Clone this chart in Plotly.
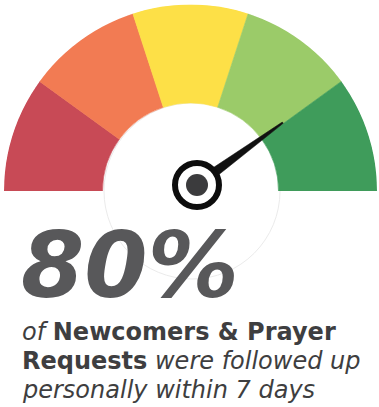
import math
import plotly.graph_objects as go

# Gauge bands (percent scale) and their colours
band_edges = [0, 20, 40, 60, 80, 100]
band_colors = ["#C84A56", "#F27B53", "#FDE047", "#9BCB69", "#3F9C5B"]

# Headline figure shown by the needle
needle_value = 80
headline = "80%"
caption_lines = [
    "<i>of</i> <b>Newcomers &amp; Prayer</b>",
    "<b>Requests</b> <i>were followed up</i>",
    "<i>personally within 7 days</i>",
]

W, H = 379, 407
CX, CY = 190.5, 191.0          # gauge centre (pixels)
R_OUT, R_IN = 186.5, 88.0      # gauge radii (pixels)
HUB_X, HUB_Y = 197.0, 185.0    # needle hub centre (pixels)

deg_per_unit = 180.0 / (band_edges[-1] - band_edges[0])
theta = [(a + b) / 2 * deg_per_unit for a, b in zip(band_edges[:-1], band_edges[1:])]
widths = [(b - a) * deg_per_unit for a, b in zip(band_edges[:-1], band_edges[1:])]

fig = go.Figure()

fig.add_trace(go.Barpolar(
    theta=theta,
    width=widths,
    r=[R_OUT - R_IN] * len(theta),
    base=[R_IN] * len(theta),
    marker=dict(color=band_colors, line=dict(color=band_colors, width=0.6)),
    hoverinfo="skip",
    showlegend=False,
))

# invisible cartesian frame in pixel units for the needle, hub and text
fig.add_trace(go.Scatter(x=[0, W], y=[0, H], mode="markers",
                         marker=dict(opacity=0), hoverinfo="skip", showlegend=False))

# needle geometry from the value
ang = math.radians(180.0 * (1 - (needle_value - band_edges[0]) / (band_edges[-1] - band_edges[0])))
L = 106.0
ux, uy = math.cos(ang), -math.sin(ang)
px, py = math.sin(ang), math.cos(ang)
bw, tw = 5.5, 0.8
pts = [
    (HUB_X + px * bw, HUB_Y + py * bw),
    (HUB_X + ux * L + px * tw, HUB_Y + uy * L + py * tw),
    (HUB_X + ux * L - px * tw, HUB_Y + uy * L - py * tw),
    (HUB_X - px * bw, HUB_Y - py * bw),
]
needle_path = "M " + " L ".join(f"{x:.2f},{y:.2f}" for x, y in pts) + " Z"

shapes = [
    # faint inner disc outline
    dict(type="circle", xref="x", yref="y", layer="below",
         x0=CX + 1.5 - R_IN, x1=CX + 1.5 + R_IN, y0=CY - R_IN, y1=CY + R_IN,
         fillcolor="white", line=dict(color="#ebebeb", width=1)),
    dict(type="path", xref="x", yref="y", layer="above", path=needle_path,
         fillcolor="#111111", line=dict(color="#111111", width=0.5)),
    dict(type="circle", xref="x", yref="y", layer="above",
         x0=HUB_X - 22, x1=HUB_X + 22, y0=HUB_Y - 22, y1=HUB_Y + 22,
         fillcolor="white", line=dict(color="#0d0d0d", width=6)),
    dict(type="circle", xref="x", yref="y", layer="above",
         x0=HUB_X - 11, x1=HUB_X + 11, y0=HUB_Y - 11, y1=HUB_Y + 11,
         fillcolor="#3b3b3d", line=dict(width=0)),
]

annotations = [
    dict(x=19, y=265, xref="x", yref="y", xanchor="left", yanchor="middle",
         text=headline, showarrow=False,
         font=dict(family="DejaVu Sans", size=91, color="#58585A",
                   weight="bold", style="italic")),
]
# caption, one annotation per line for a tighter line pitch
line_tops = [316, 345, 374]
for top, line in zip(line_tops, caption_lines):
    annotations.append(dict(
        x=20, y=top, xref="x", yref="y", xanchor="left", yanchor="top",
        align="left", text=line, showarrow=False,
        font=dict(family="DejaVu Sans", size=24, color="#3E3E40")))

fig.update_layout(
    width=W, height=H,
    margin=dict(l=0, r=0, t=0, b=0),
    paper_bgcolor="white", plot_bgcolor="white",
    xaxis=dict(range=[0, W], visible=False, domain=[0, 1], fixedrange=True),
    yaxis=dict(range=[H, 0], visible=False, domain=[0, 1], fixedrange=True),
    polar=dict(
        domain=dict(x=[(CX - R_OUT) / W, (CX + R_OUT) / W],
                    y=[(H - CY) / H, (H - CY + R_OUT) / H]),
        sector=[0, 180],
        bgcolor="rgba(0,0,0,0)",
        radialaxis=dict(range=[0, R_OUT], visible=False),
        angularaxis=dict(rotation=180, direction="clockwise", visible=False),
    ),
    shapes=shapes,
    annotations=annotations,
    showlegend=False,
)

fig.write_html("out.html")
